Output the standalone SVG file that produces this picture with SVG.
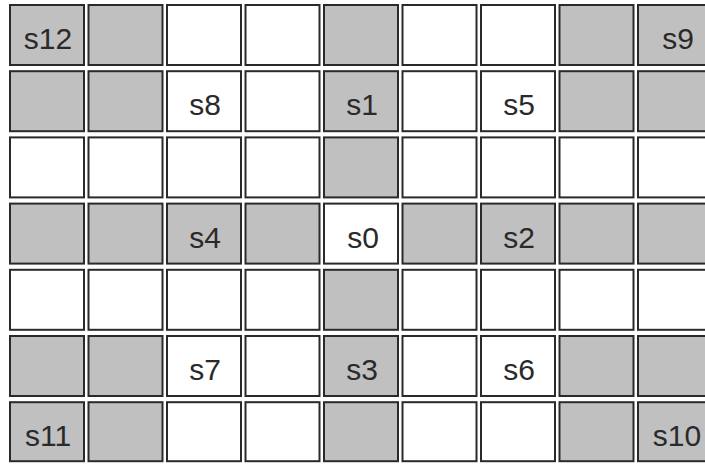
<svg xmlns="http://www.w3.org/2000/svg" width="705" height="464" viewBox="0 0 705 464">
<style>
.g{fill:#c0c0c0;stroke:#2a2a2a;stroke-width:2}
.w{fill:#ffffff;stroke:#2a2a2a;stroke-width:2}
text{font-family:"Liberation Sans",Arial,sans-serif;font-size:30px;fill:#2a2a2a;text-anchor:middle}
</style>
<rect x="0" y="0" width="705" height="464" fill="#ffffff"/>
<g id="row0">
<g id="r0c0"><rect class="g" x="10" y="5" width="74" height="60"/><text x="48" y="49">s12</text></g>
<g id="r0c1"><rect class="g" x="88.5" y="5" width="74" height="60"/></g>
<g id="r0c2"><rect class="w" x="167" y="5" width="74" height="60"/></g>
<g id="r0c3"><rect class="w" x="245.5" y="5" width="74" height="60"/></g>
<g id="r0c4"><rect class="g" x="324" y="5" width="74" height="60"/></g>
<g id="r0c5"><rect class="w" x="402.5" y="5" width="74" height="60"/></g>
<g id="r0c6"><rect class="w" x="481" y="5" width="74" height="60"/></g>
<g id="r0c7"><rect class="g" x="559.5" y="5" width="74" height="60"/></g>
<g id="r0c8"><rect class="g" x="638" y="5" width="74" height="60"/><text x="678" y="49">s9</text></g>
</g>
<g id="row1">
<g id="r1c0"><rect class="g" x="10" y="71.2" width="74" height="60"/></g>
<g id="r1c1"><rect class="g" x="88.5" y="71.2" width="74" height="60"/></g>
<g id="r1c2"><rect class="w" x="167" y="71.2" width="74" height="60"/><text x="205" y="115.2">s8</text></g>
<g id="r1c3"><rect class="w" x="245.5" y="71.2" width="74" height="60"/></g>
<g id="r1c4"><rect class="g" x="324" y="71.2" width="74" height="60"/><text x="362" y="115.2">s1</text></g>
<g id="r1c5"><rect class="w" x="402.5" y="71.2" width="74" height="60"/></g>
<g id="r1c6"><rect class="w" x="481" y="71.2" width="74" height="60"/><text x="519" y="115.2">s5</text></g>
<g id="r1c7"><rect class="g" x="559.5" y="71.2" width="74" height="60"/></g>
<g id="r1c8"><rect class="g" x="638" y="71.2" width="74" height="60"/></g>
</g>
<g id="row2">
<g id="r2c0"><rect class="w" x="10" y="137.4" width="74" height="60"/></g>
<g id="r2c1"><rect class="w" x="88.5" y="137.4" width="74" height="60"/></g>
<g id="r2c2"><rect class="w" x="167" y="137.4" width="74" height="60"/></g>
<g id="r2c3"><rect class="w" x="245.5" y="137.4" width="74" height="60"/></g>
<g id="r2c4"><rect class="g" x="324" y="137.4" width="74" height="60"/></g>
<g id="r2c5"><rect class="w" x="402.5" y="137.4" width="74" height="60"/></g>
<g id="r2c6"><rect class="w" x="481" y="137.4" width="74" height="60"/></g>
<g id="r2c7"><rect class="w" x="559.5" y="137.4" width="74" height="60"/></g>
<g id="r2c8"><rect class="w" x="638" y="137.4" width="74" height="60"/></g>
</g>
<g id="row3">
<g id="r3c0"><rect class="g" x="10" y="203.6" width="74" height="60"/></g>
<g id="r3c1"><rect class="g" x="88.5" y="203.6" width="74" height="60"/></g>
<g id="r3c2"><rect class="g" x="167" y="203.6" width="74" height="60"/><text x="205" y="247.6">s4</text></g>
<g id="r3c3"><rect class="g" x="245.5" y="203.6" width="74" height="60"/></g>
<g id="r3c4"><rect class="w" x="324" y="203.6" width="74" height="60"/><text x="363" y="247.6">s0</text></g>
<g id="r3c5"><rect class="g" x="402.5" y="203.6" width="74" height="60"/></g>
<g id="r3c6"><rect class="g" x="481" y="203.6" width="74" height="60"/><text x="519" y="247.6">s2</text></g>
<g id="r3c7"><rect class="g" x="559.5" y="203.6" width="74" height="60"/></g>
<g id="r3c8"><rect class="g" x="638" y="203.6" width="74" height="60"/></g>
</g>
<g id="row4">
<g id="r4c0"><rect class="w" x="10" y="269.8" width="74" height="60"/></g>
<g id="r4c1"><rect class="w" x="88.5" y="269.8" width="74" height="60"/></g>
<g id="r4c2"><rect class="w" x="167" y="269.8" width="74" height="60"/></g>
<g id="r4c3"><rect class="w" x="245.5" y="269.8" width="74" height="60"/></g>
<g id="r4c4"><rect class="g" x="324" y="269.8" width="74" height="60"/></g>
<g id="r4c5"><rect class="w" x="402.5" y="269.8" width="74" height="60"/></g>
<g id="r4c6"><rect class="w" x="481" y="269.8" width="74" height="60"/></g>
<g id="r4c7"><rect class="w" x="559.5" y="269.8" width="74" height="60"/></g>
<g id="r4c8"><rect class="w" x="638" y="269.8" width="74" height="60"/></g>
</g>
<g id="row5">
<g id="r5c0"><rect class="g" x="10" y="336" width="74" height="60"/></g>
<g id="r5c1"><rect class="g" x="88.5" y="336" width="74" height="60"/></g>
<g id="r5c2"><rect class="w" x="167" y="336" width="74" height="60"/><text x="205" y="380">s7</text></g>
<g id="r5c3"><rect class="w" x="245.5" y="336" width="74" height="60"/></g>
<g id="r5c4"><rect class="g" x="324" y="336" width="74" height="60"/><text x="362" y="380">s3</text></g>
<g id="r5c5"><rect class="w" x="402.5" y="336" width="74" height="60"/></g>
<g id="r5c6"><rect class="w" x="481" y="336" width="74" height="60"/><text x="519" y="380">s6</text></g>
<g id="r5c7"><rect class="g" x="559.5" y="336" width="74" height="60"/></g>
<g id="r5c8"><rect class="g" x="638" y="336" width="74" height="60"/></g>
</g>
<g id="row6">
<g id="r6c0"><rect class="g" x="10" y="402.2" width="74" height="59"/><text x="48" y="445.5">s11</text></g>
<g id="r6c1"><rect class="g" x="88.5" y="402.2" width="74" height="59"/></g>
<g id="r6c2"><rect class="w" x="167" y="402.2" width="74" height="59"/></g>
<g id="r6c3"><rect class="w" x="245.5" y="402.2" width="74" height="59"/></g>
<g id="r6c4"><rect class="g" x="324" y="402.2" width="74" height="59"/></g>
<g id="r6c5"><rect class="w" x="402.5" y="402.2" width="74" height="59"/></g>
<g id="r6c6"><rect class="w" x="481" y="402.2" width="74" height="59"/></g>
<g id="r6c7"><rect class="g" x="559.5" y="402.2" width="74" height="59"/></g>
<g id="r6c8"><rect class="g" x="638" y="402.2" width="74" height="59"/><text x="677" y="445.5">s10</text></g>
</g>
<g id="connectors"></g>
</svg>
